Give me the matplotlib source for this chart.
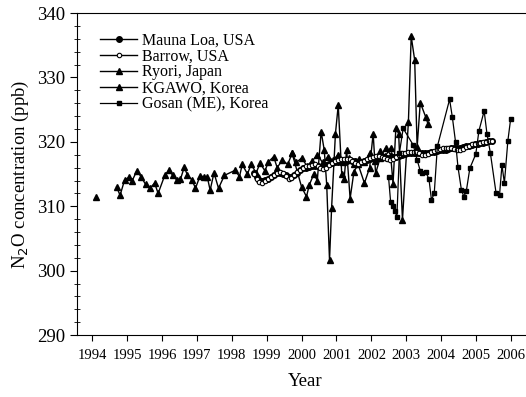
import numpy as np
import matplotlib.pyplot as plt
from matplotlib.ticker import MultipleLocator

plt.rcParams['font.family'] = ['Liberation Serif', 'DejaVu Serif']

nan = np.nan

# Monthly means, Aug 1998 - Jun 2005
ml_start = 1998 + 7.5 / 12
mauna_loa = [315.2, 314.6, 314.1, 313.9, 314.1,
             314.3, 314.6, 314.9, 315.1, 315.2, 315.0, 314.8, 314.6, 314.6, 314.8, 315.2, 315.6,
             315.9, 316.0, 316.1, 316.2, 316.3, 316.2, 316.1, 316.2, 316.4, 316.6, 316.7, 316.8,
             316.9, 317.0, 317.1, 317.1, 317.2, 317.1, 317.0, 316.9, 316.9, 317.0, 317.2, 317.4,
             317.5, 317.5, 317.6, 317.6, 317.6, 317.5, 317.5, 317.6, 317.7, 317.8, 318.0, 318.1,
             318.2, 318.2, 318.3, 318.3, 318.3, 318.2, 318.2, 318.3, 318.4, 318.5, 318.6, 318.7,
             318.7, 318.8, 318.9, 319.0, 319.0, 319.0, 319.1, 319.2, 319.3, 319.4, 319.5, 319.6,
             319.7, 319.8, 319.9, 320.0, 320.1, 320.2]
barrow = [315.0, 314.3, 313.7, 313.6, 313.9,
          314.2, 314.5, 314.8, 315.2, 315.4, 315.1, 314.7, 314.3, 314.4, 314.8, 315.3, 315.7,
          316.0, 316.2, 316.3, 316.4, 316.5, 316.3, 315.9, 315.8, 316.0, 316.4, 316.7, 317.0,
          317.2, 317.3, 317.4, 317.4, 317.3, 317.0, 316.7, 316.6, 316.8, 317.0, 317.3, 317.5,
          317.7, 317.8, 317.8, 317.7, 317.5, 317.3, 317.2, 317.4, 317.7, 317.9, 318.2, 318.3,
          318.4, 318.5, 318.5, 318.4, 318.2, 318.0, 317.9, 318.1, 318.4, 318.6, 318.8, 318.9,
          319.0, 319.1, 319.1, 319.0, 318.9, 318.7, 318.7, 318.9, 319.2, 319.4, 319.6, 319.7,
          319.8, 319.9, 320.0, 320.0, 320.1, 320.2]
ml_years = ml_start + np.arange(len(mauna_loa)) / 12

ryori_years = [1994.10, 1994.40,
               1994.70, 1994.80, 1994.93, 1995.06, 1995.14, 1995.28, 1995.40, 1995.53,
               1995.67, 1995.79, 1995.89, 1996.08, 1996.20, 1996.31, 1996.42, 1996.53,
               1996.64, 1996.73, 1996.86, 1996.96, 1997.09, 1997.20, 1997.30, 1997.38,
               1997.49, 1997.62, 1997.79, 1998.10, 1998.22, 1998.30, 1998.45, 1998.55,
               1998.70, 1998.81, 1998.95, 1999.05, 1999.20, 1999.30, 1999.45, 1999.60,
               1999.73, 1999.85, 2000.00, 2000.15, 2000.30, 2000.45, 2000.60, 2000.75,
               2000.90, 2001.05, 2001.20, 2001.35, 2001.50, 2001.65, 2001.80, 2001.95,
               2002.10, 2002.25, 2002.40, 2002.55]
ryori = [311.4, nan,
         313.0, 311.7, 314.1, 314.5, 313.9, 315.5, 314.6, 313.4,
         312.9, 313.6, 312.0, 314.8, 315.6, 314.8, 314.1, 314.2,
         316.1, 314.8, 314.1, 312.8, 314.7, 314.6, 314.5, 312.5,
         315.2, 312.8, 314.8, 315.6, 314.6, 316.5, 315.0, 316.5,
         315.2, 316.7, 315.5, 316.9, 317.7, 316.0, 317.2, 316.5,
         318.2, 316.8, 317.5, 316.3, 317.0, 318.0, 316.8, 317.6,
         317.2, 318.0, 316.8, 317.5, 316.5, 317.4, 316.9, 318.2,
         317.0, 318.6, 317.8, 319.1]

kgawo_years = [1999.73, 2000.00, 2000.14, 2000.22, 2000.35, 2000.45, 2000.56, 2000.65,
               2000.72, 2000.80, 2000.86, 2000.97, 2001.05, 2001.15, 2001.22, 2001.29,
               2001.39, 2001.50, 2001.62, 2001.80, 2001.95, 2002.05, 2002.12, 2002.25,
               2002.41, 2002.55, 2002.62, 2002.70, 2002.78, 2002.89, 2003.06, 2003.14,
               2003.24, 2003.31, 2003.40, 2003.56, 2003.62]
kgawo = [318.2, 313.0, 311.5, 313.3, 315.0, 314.0, 321.6, 318.7,
         313.3, 301.6, 309.8, 321.3, 325.7, 315.0, 314.3, 318.8,
         311.2, 315.4, 316.5, 313.6, 316.0, 321.3, 315.1, 317.5,
         319.1, 318.0, 313.5, 322.1, 321.3, 307.9, 323.1, 336.4,
         332.7, 319.2, 326.1, 323.8, 322.8]

gosan_years = [2002.49, 2002.55, 2002.62, 2002.68, 2002.73, 2002.80, 2002.91, 2003.20,
               2003.31, 2003.40, 2003.46, 2003.56, 2003.65, 2003.72, 2003.80, 2003.89,
               2004.24, 2004.32, 2004.41, 2004.48, 2004.58, 2004.65, 2004.72, 2004.82,
               2004.99, 2005.08, 2005.23, 2005.31, 2005.41, 2005.57, 2005.67, 2005.74,
               2005.81, 2005.91, 2005.99]
gosan = [314.6, 310.7, 310.0, 309.3, 308.3, 318.2, 322.1, 319.5,
         317.2, 315.5, 315.1, 315.3, 314.2, 311.0, 312.0, 319.3,
         326.6, 323.8, 320.0, 316.1, 312.5, 311.5, 312.4, 315.9,
         318.1, 321.7, 324.8, 321.3, 318.2, 312.1, 311.7, 316.4,
         313.6, 320.2, 323.6]

year_ticks = list(range(1994, 2007))

fig = plt.figure(figsize=(5.26, 3.97), dpi=100)
ax = fig.add_axes([0.146, 0.156, 0.87, 0.811])

ax.plot(ryori_years, ryori, color='k', lw=1, marker='^', ms=5, label='Ryori, Japan', zorder=3)
ax.plot(kgawo_years, kgawo, color='k', lw=1, marker='^', ms=5, label='KGAWO, Korea', zorder=3)
ax.plot(ml_years, mauna_loa, color='k', lw=1, marker='o', ms=4, label='Mauna Loa, USA', zorder=4)
ax.plot(ml_years, barrow, color='k', lw=1, marker='o', ms=3.2, mfc='white', mew=0.8,
        label='Barrow, USA', zorder=4)
ax.plot(gosan_years, gosan, color='k', lw=0.9, marker='s', ms=2.2, label='Gosan (ME), Korea', zorder=5)

ax.set_xlim(1993.56, 2006.67)
ax.set_ylim(290, 340)
ax.set_xticks(year_ticks)
ax.set_xticklabels([str(y) for y in year_ticks], fontsize=10.5)
ax.yaxis.set_major_locator(MultipleLocator(10))
ax.yaxis.set_minor_locator(MultipleLocator(2))
ax.tick_params(axis='y', which='major', direction='out', length=5, labelsize=13.5)
ax.tick_params(axis='y', which='minor', direction='inout', length=4)
ax.tick_params(axis='x', which='major', direction='out', length=4, pad=6)
ax.spines['right'].set_visible(False)

ax.set_xlabel('Year', fontsize=13.5, labelpad=8)
ax.set_ylabel('N$_2$O concentration (ppb)', fontsize=13.5, labelpad=4)

handles, labels = ax.get_legend_handles_labels()
order = [2, 3, 0, 1, 4]
ax.legend([handles[i] for i in order], [labels[i] for i in order],
          loc='upper left', bbox_to_anchor=(0.02, 0.985), frameon=False,
          fontsize=11.5, handlelength=2.3, handletextpad=0.3, labelspacing=0.0)

fig.savefig('out.png', dpi=100)
